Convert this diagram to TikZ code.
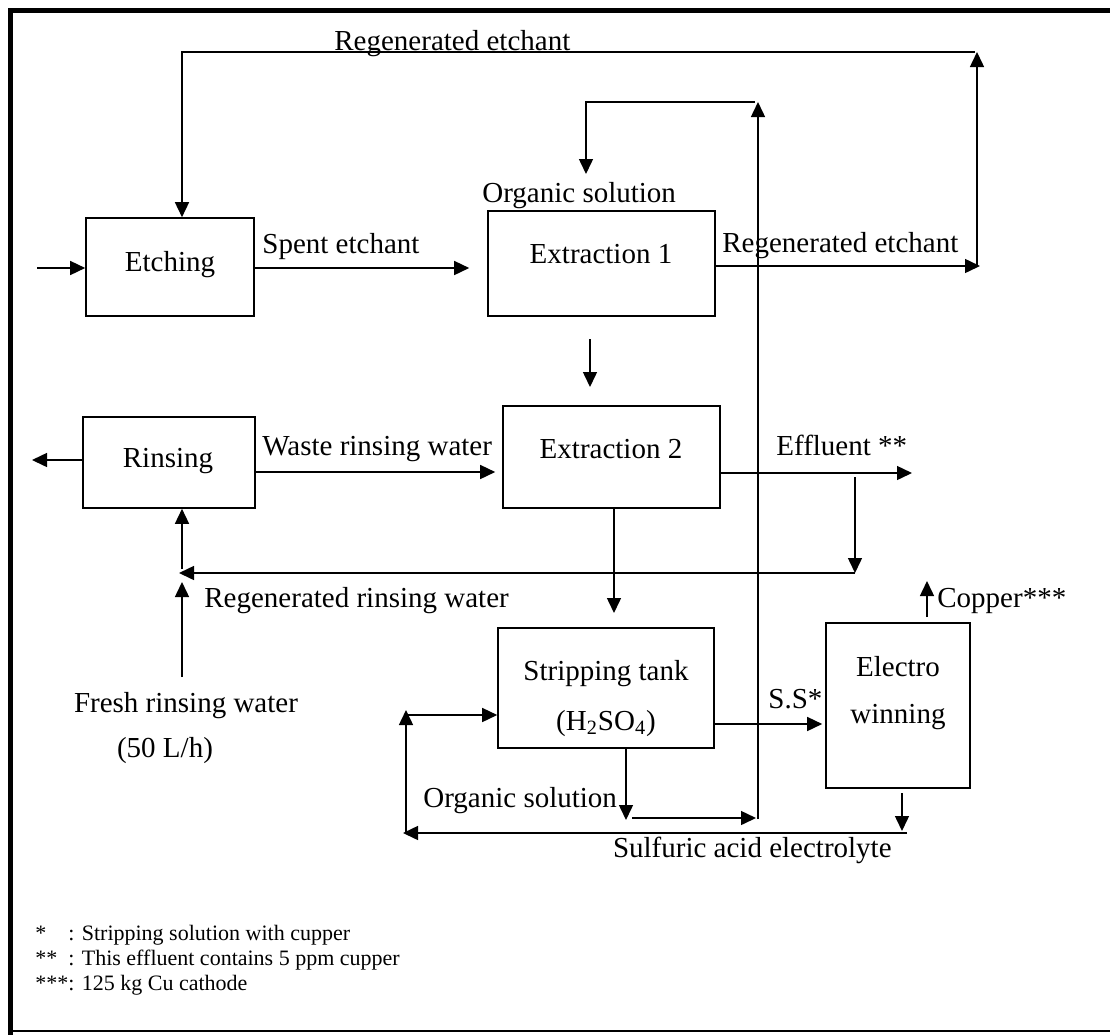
\documentclass[tikz,border=0pt]{standalone}
\usepackage{fontspec}
\setmainfont{Liberation Serif}
\usetikzlibrary{arrows.meta}
\begin{document}
\begin{tikzpicture}[x=0.5pt,y=-0.5pt,
  box/.style={draw, line width=0.8pt, inner sep=0pt},
  lbl/.style={font=\fontsize{14.5}{17}\selectfont, inner sep=0pt},
  flow/.style={line width=0.75pt, -{Triangle[length=7.5pt,width=7pt]}},
  pipe/.style={line width=0.75pt},
  note/.style={font=\fontsize{11}{13}\selectfont, inner sep=0pt, anchor=base west}]
\useasboundingbox (0,0) rectangle (1110,1035);

% outer frame
\draw[line width=2.5pt] (1110,10) -- (10.5,10) -- (10.5,1035);
\draw[line width=1pt] (10.5,1031) -- (1110,1031);

% process units
\node[box, minimum width=84pt,   minimum height=49pt]   (etch)  at (170,267)   {};
\node[box, minimum width=113.5pt,minimum height=52.5pt] (ext1)  at (601.5,263.5) {};
\node[box, minimum width=86pt,   minimum height=45.5pt] (rinse) at (169,462.5) {};
\node[box, minimum width=108.5pt,minimum height=51pt]   (ext2)  at (611.5,457) {};
\node[box, minimum width=108pt,  minimum height=60pt]   (strip) at (606,688)   {};
\node[box, minimum width=72pt,   minimum height=82.5pt] (elec)  at (898,705.5) {};

% unit captions
\node[lbl, anchor=base] (etchtxt)  at (170,271) {Etching};
\node[lbl, anchor=base] (ext1txt)  at (601,263) {Extraction 1};
\node[lbl, anchor=base] (rinsetxt) at (168,467) {Rinsing};
\node[lbl, anchor=base] (ext2txt)  at (611,458) {Extraction 2};
\node[lbl, anchor=base] (striptxt) at (606,680) {Stripping tank};
\node[lbl, anchor=base] (acidtxt)  at (606,730) {(H\textsubscript{2}SO\textsubscript{4})};
\node[lbl, anchor=base] (electxt)  at (898,676) {Electro};
\node[lbl, anchor=base] (wintxt)   at (898,723) {winning};

% stream labels
\node[lbl, anchor=base west] (lregtop) at (334,50)  {Regenerated etchant};
\node[lbl, anchor=base west] (lspent)  at (262,253) {Spent etchant};
\node[lbl, anchor=base west] (lorgtop) at (482,202) {Organic solution};
\node[lbl, anchor=base west] (lregmid) at (722,252) {Regenerated etchant};
\node[lbl, anchor=base west] (lwaste)  at (262,455) {Waste rinsing water};
\node[lbl, anchor=base west] (leffl)   at (776,455) {Effluent **};
\node[lbl, anchor=base west] (lregrin) at (204,607) {Regenerated rinsing water};
\node[lbl, anchor=base west] (lcopper) at (937,607) {Copper***};
\node[lbl, anchor=base west] (lss)     at (768,708) {S.S*};
\node[lbl, anchor=base west] (lorgbot) at (423,807) {Organic solution};
\node[lbl, anchor=base east] (lsulf)   at (892,857) {Sulfuric acid electrolyte};
\node[lbl, anchor=base] (lfresh) at (186,712) {Fresh rinsing water};
\node[lbl, anchor=base] (lrate)  at (165,757) {(50 L/h)};

% free ends of the streams
\coordinate (etchin)  at (37,268);
\coordinate (rinout)  at (32,460);
\coordinate (regR)    at (980,266);
\coordinate (regUp)   at (977,266);
\coordinate (regTop)  at (977,52);
\coordinate (regTopL) at (975,52);
\coordinate (regCor)  at (182,52);
\coordinate (orgBot)  at (758,819);
\coordinate (orgTop)  at (758,102);
\coordinate (orgTopL) at (755,102);
\coordinate (orgCor)  at (586,102);
\coordinate (orgEnd)  at (586,174);
\coordinate (e12a)    at (590,339);
\coordinate (e12b)    at (590,387);
\coordinate (efflEnd) at (912,473);
\coordinate (brTop)   at (855,477);
\coordinate (brBot)   at (855,573);
\coordinate (rrEnd)   at (179,573);
\coordinate (rrUp)    at (182,569);
\coordinate (frBot)   at (182,677);
\coordinate (frTop)   at (182,582);
\coordinate (cuBot)   at (927,617);
\coordinate (cuTop)   at (927,581);
\coordinate (elBot)   at (902,793);
\coordinate (elEnd)   at (902,831);
\coordinate (sulfR)   at (907,833);
\coordinate (sulfL)   at (403,833);
\coordinate (sulfC)   at (406,833);
\coordinate (retTop)  at (406,710);
\coordinate (retH)    at (406,715);
\coordinate (stBot)   at (626,820);
\coordinate (orgA)    at (632,818);
\coordinate (orgB)    at (756,818);

% etching line
\draw[flow] (etchin) -- (etch.west |- etchin);
\draw[flow] (etch.east |- etchin) -- ([xshift=-9pt]ext1.west |- etchin);
\draw[flow] (ext1.east |- regR) -- (regR);
\draw[flow] (regUp) -- (regTop);
\draw[flow] (regTopL) -- (regCor) -- (etch.north -| regCor);

% organic solution loop
\draw[flow] (orgBot) -- (orgTop);
\draw[flow] (orgTopL) -- (orgCor) -- (orgEnd);
\draw[flow] (e12a) -- (e12b);

% rinsing line
\draw[flow] (rinse.west |- rinout) -- (rinout);
\draw[flow] (rinse.east |- 0,472) -- ([xshift=-3.5pt]ext2.west |- 0,472);
\draw[flow] (ext2.east |- efflEnd) -- (efflEnd);
\draw[flow] (brTop) -- (brBot);
\draw[flow] (brBot) -- (rrEnd);
\draw[flow] (rrUp) -- (rinse.south -| rrUp);
\draw[flow] (frBot) -- (frTop);

% stripping and electrowinning
\draw[flow] (ext2.south -| 614,0) -- (614,613);
\draw[flow] (strip.east |- 0,724) -- ([xshift=-1.5pt]elec.west |- 0,724);
\draw[flow] (cuBot) -- (cuTop);
\draw[flow] (elBot) -- (elEnd);
\draw[flow] (sulfR) -- (sulfL);
\draw[flow] (sulfC) -- (retTop);
\draw[flow] (retH) -- (strip.west |- retH);
\draw[flow] (strip.south -| stBot) -- (stBot);
\draw[flow] (orgA) -- (orgB);

% footnotes
\node[note] (n1a) at (35,940) {*};
\node[note] (n1b) at (68,940) {: Stripping solution with cupper};
\node[note] (n2a) at (35,965) {**};
\node[note] (n2b) at (68,965) {: This effluent contains 5 ppm cupper};
\node[note] (n3a) at (35,990) {***};
\node[note] (n3b) at (68,990) {: 125 kg Cu cathode};
\end{tikzpicture}
\end{document}
